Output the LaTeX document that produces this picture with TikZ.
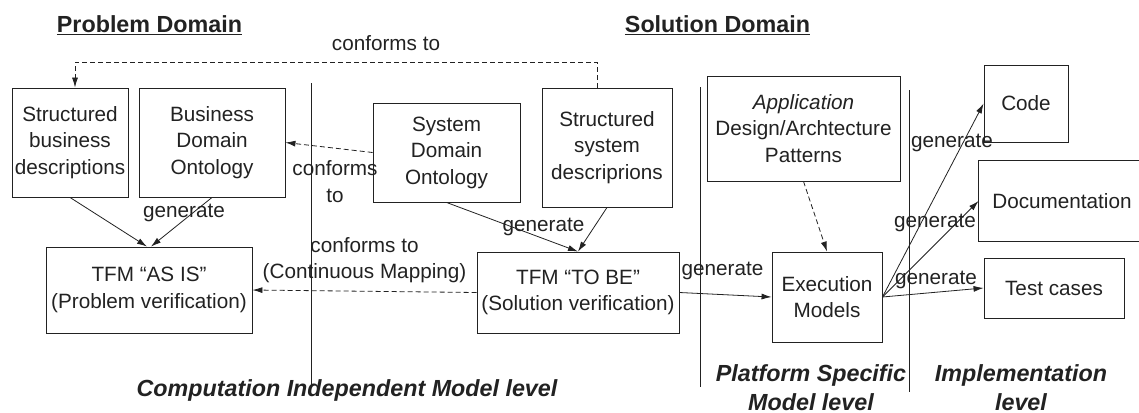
\documentclass[tikz,border=0pt]{standalone}
\usepackage{fontspec}
\setmainfont{Liberation Sans}
\usetikzlibrary{arrows.meta}
\definecolor{ink}{HTML}{222222}
\tikzset{
  every node/.style={text=ink},
  boxline/.style={draw=ink, line width=0.9pt},
  box/.style={boxline, inner sep=0pt, align=center,
    font=\fontsize{20.7}{26.5}\selectfont},
  lbl/.style={inner sep=0pt, align=center, font=\fontsize{20.7}{26.5}\selectfont},
  title/.style={inner sep=0pt, font=\fontsize{23.3}{28}\selectfont\bfseries},
  level/.style={inner sep=0pt, align=center, font=\fontsize{23.3}{29}\selectfont\bfseries\itshape},
  arr/.style={draw=ink, line width=0.8pt, -{Latex[length=10pt,width=6pt]}},
  darr/.style={arr, dash pattern=on 5pt off 3pt},
  sep/.style={draw=ink, line width=1pt}
}
\begin{document}
\begin{tikzpicture}[x=1pt,y=-1pt]
\fill[white] (0,0) rectangle (1139,412);
\useasboundingbox (0,0) rectangle (1139,412);
\clip (0,0) rectangle (1139,412);

% domain headings
\node[title, anchor=base] (pd) at (149.5,33) {\underline{Problem Domain}};
\node[title, anchor=base] (sd) at (717.5,33) {\underline{Solution Domain}};

% level separators
\draw[sep] (311,83) -- (311,385);
\draw[sep] (700,87) -- (700,387);
\draw[sep] (909,90) -- (909,392);

% boxes
\node[box, minimum width=116pt, minimum height=109pt] (sbd) at (70,142.5)
  {Structured\\business\\descriptions};
\node[box, minimum width=146pt, minimum height=109pt] (bdo) at (212,142.5)
  {Business\\Domain\\Ontology};
\node[box, minimum width=147pt, minimum height=99pt] (sdo) at (446.5,152.5)
  {System\\Domain\\Ontology};
\node[box, minimum width=130pt, minimum height=119pt] (ssd) at (607,147.5)
  {Structured\\system\\descriprions};
\node[box, minimum width=193pt, minimum height=105pt] (app) at (803.5,128.5)
  {\itshape Application\\Design/Archtecture\\Patterns};
\node[box, minimum width=84pt, minimum height=77pt] (code) at (1026,103.5) {Code};
% this box runs past the right edge of the sheet
\node[box, draw=none, minimum width=166pt, minimum height=80pt] (doc) at (1062,201)
  {Documentation};
\draw[boxline] ([xshift=40pt]doc.north east) -- (doc.north west)
  -- (doc.south west) -- ([xshift=40pt]doc.south east);
\node[box, minimum width=140pt, minimum height=60pt] (test) at (1054,288) {Test cases};
\node[box, minimum width=206pt, minimum height=86pt] (asis) at (149,290)
  {TFM “AS IS”\\(Problem verification)};
\node[box, minimum width=202pt, minimum height=81pt] (tobe) at (578,292.5)
  {TFM “TO BE”\\(Solution verification)};
\node[box, minimum width=110pt, minimum height=90pt] (exec) at (827,297)
  {Execution\\Models};

% level names
\node[level] (cim) at (347,390) {Computation Independent Model level};
\node[level] (psm) at (811,387.5) {Platform Specific\\Model level};
\node[level] (impl) at (1021,387.5) {Implementation\\level};

% conformance links
\node[lbl, anchor=base] (lconf) at (386,51) {conforms to};
\coordinate (top) at (0,62);
\coordinate (d1) at ([xshift=-10pt]ssd.north);
\coordinate (d2) at ([xshift=5pt]sbd.north);
\draw[darr] (d1) |- (top -| d2) -- (d2);
\draw[darr] (sdo.west) -- (bdo.east);
\node[lbl] (lconf2) at (335,181.5) {conforms\\to};
\draw[darr] (tobe.west) -- (asis.east);
\node[lbl] (lconf3) at (364.5,260) {conforms to\\(Continuous Mapping)};

% generation links
\draw[arr] (sbd.south) -- ([xshift=-2pt]asis.north);
\draw[arr] (bdo.south) -- ([xshift=2pt]asis.north);
\node[lbl] (g1) at (184,213) {generate};
\draw[arr] (sdo.south) -- (tobe.north);
\draw[arr] (ssd.south) -- (tobe.north);
\node[lbl] (g2) at (543.5,227) {generate};
\draw[arr] (tobe.east) -- (exec.west);
\node[lbl] (g3) at (722.5,271) {generate};
\draw[darr] (app.south) -- (exec.north);
\draw[arr] (exec.east) -- (code.west);
\draw[arr] (exec.east) -- (doc.west);
\draw[arr] (exec.east) -- (test.west);
\node[lbl] (g4) at (952,143) {generate};
\node[lbl] (g5) at (935,223) {generate};
\node[lbl] (g6) at (936,280) {generate};
\end{tikzpicture}
\end{document}
